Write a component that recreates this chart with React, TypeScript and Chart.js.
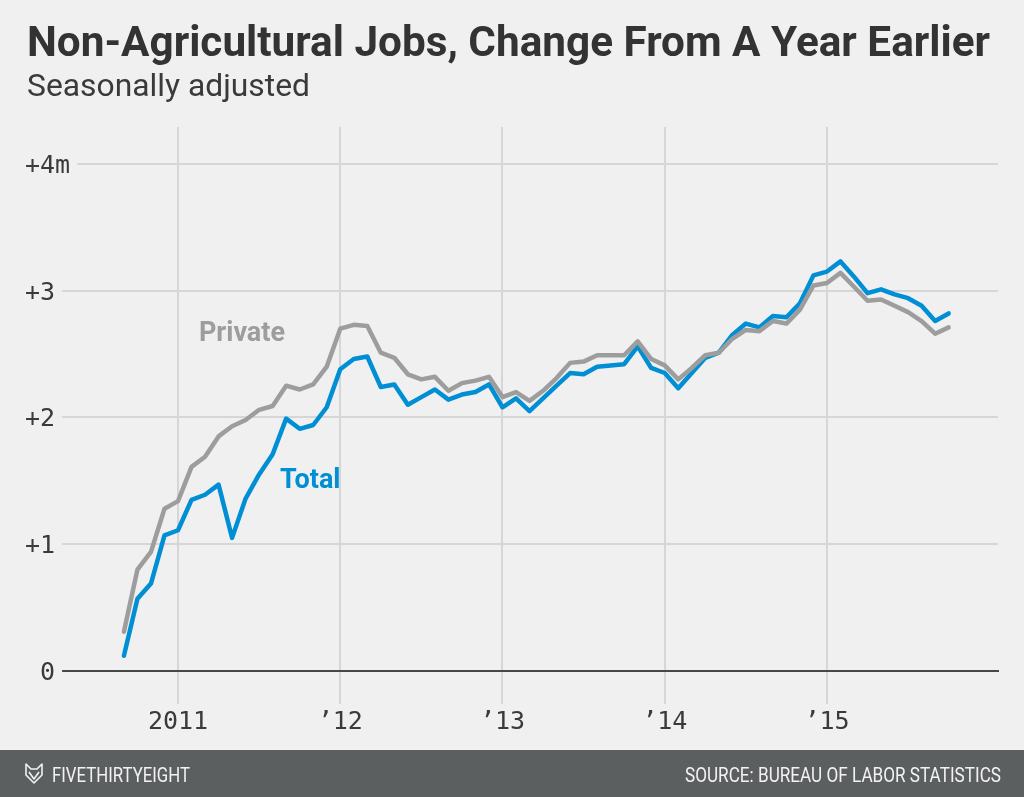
import React, { useEffect, useRef } from "react";
import { Chart, registerables } from "chart.js";

Chart.register(...registerables);

const titleText = "Non-Agricultural Jobs, Change From A Year Earlier";
const subtitleText = "Seasonally adjusted";
const brandText = "FIVETHIRTYEIGHT";
const sourceText = "SOURCE: BUREAU OF LABOR STATISTICS";

const months = [
  "Sep 2010", "Oct 2010", "Nov 2010", "Dec 2010",
  "Jan 2011", "Feb 2011", "Mar 2011", "Apr 2011", "May 2011", "Jun 2011",
  "Jul 2011", "Aug 2011", "Sep 2011", "Oct 2011", "Nov 2011", "Dec 2011",
  "Jan 2012", "Feb 2012", "Mar 2012", "Apr 2012", "May 2012", "Jun 2012",
  "Jul 2012", "Aug 2012", "Sep 2012", "Oct 2012", "Nov 2012", "Dec 2012",
  "Jan 2013", "Feb 2013", "Mar 2013", "Apr 2013", "May 2013", "Jun 2013",
  "Jul 2013", "Aug 2013", "Sep 2013", "Oct 2013", "Nov 2013", "Dec 2013",
  "Jan 2014", "Feb 2014", "Mar 2014", "Apr 2014", "May 2014", "Jun 2014",
  "Jul 2014", "Aug 2014", "Sep 2014", "Oct 2014", "Nov 2014", "Dec 2014",
  "Jan 2015", "Feb 2015", "Mar 2015", "Apr 2015", "May 2015", "Jun 2015",
  "Jul 2015", "Aug 2015", "Sep 2015", "Oct 2015",
];

// millions of jobs, change from a year earlier
const totalJobs = [
  0.12, 0.57, 0.69, 1.07,
  1.11, 1.35, 1.39, 1.47, 1.05, 1.36, 1.55, 1.71, 1.99, 1.91, 1.94, 2.08,
  2.38, 2.46, 2.48, 2.24, 2.26, 2.10, 2.16, 2.22, 2.14, 2.18, 2.20, 2.26,
  2.08, 2.15, 2.05, 2.15, 2.25, 2.35, 2.34, 2.40, 2.41, 2.42, 2.56, 2.39,
  2.35, 2.23, 2.35, 2.47, 2.51, 2.65, 2.74, 2.71, 2.80, 2.79, 2.90, 3.12,
  3.15, 3.23, 3.11, 2.98, 3.01, 2.97, 2.94, 2.88, 2.76, 2.82,
];

const privateJobs = [
  0.31, 0.80, 0.94, 1.28,
  1.34, 1.61, 1.69, 1.85, 1.93, 1.98, 2.06, 2.09, 2.25, 2.22, 2.26, 2.40,
  2.70, 2.73, 2.72, 2.51, 2.47, 2.34, 2.30, 2.32, 2.21, 2.27, 2.29, 2.32,
  2.16, 2.20, 2.13, 2.21, 2.31, 2.43, 2.44, 2.49, 2.49, 2.49, 2.60, 2.46,
  2.41, 2.30, 2.39, 2.49, 2.51, 2.62, 2.69, 2.68, 2.76, 2.74, 2.85, 3.04,
  3.06, 3.14, 3.03, 2.92, 2.93, 2.88, 2.83, 2.76, 2.66, 2.71,
];

// x ticks: index into months (January of each year)
const xTickIndex = [4, 16, 28, 40, 52];
const xTickLabels = ["2011", "\u201912", "\u201913", "\u201914", "\u201915"];
const yTickValues = [0, 1, 2, 3, 4];
const yTickLabels = ["0", "+1", "+2", "+3", "+4m"];

// series annotations: [month index, value at baseline]
const privateLabelPos = [5.55, 2.6];
const totalLabelPos = [11.55, 1.44];

const BG = "#f0f0f0";
const BLUE = "#008fd5";
const GRAY = "#9d9d9d";
const GRID = "#d6d6d6";
const TEXT = "#3a3a3a";

function fitText(
  ctx: CanvasRenderingContext2D,
  text: string,
  x: number,
  y: number,
  width: number,
  font: string,
  color: string
) {
  ctx.save();
  ctx.font = font;
  ctx.fillStyle = color;
  ctx.textAlign = "left";
  ctx.textBaseline = "alphabetic";
  const w = ctx.measureText(text).width;
  const s = width / w;
  ctx.translate(x, y);
  ctx.scale(s, 1);
  ctx.fillText(text, 0, 0);
  ctx.restore();
}

const decor = {
  id: "decor",
  beforeDraw(chart: any) {
    const ctx = chart.ctx as CanvasRenderingContext2D;
    ctx.save();
    ctx.fillStyle = BG;
    ctx.fillRect(0, 0, chart.width, chart.height);
    ctx.restore();
  },
  beforeDatasetsDraw(chart: any) {
    const ctx = chart.ctx as CanvasRenderingContext2D;
    const y = chart.scales.y;
    const area = chart.chartArea;
    const y0 = Math.round(y.getPixelForValue(0));
    ctx.save();
    ctx.strokeStyle = "#474747";
    ctx.lineWidth = 2;
    ctx.beginPath();
    ctx.moveTo(area.left, y0);
    ctx.lineTo(area.right + 1, y0);
    ctx.stroke();
    ctx.restore();
  },
  afterDraw(chart: any) {
    const ctx = chart.ctx as CanvasRenderingContext2D;
    const xs = chart.scales.x;
    const ys = chart.scales.y;
    const area = chart.chartArea;

    // title + subtitle
    fitText(ctx, titleText, 27, 56, 963, "bold 43px Roboto", "#333333");
    fitText(ctx, subtitleText, 27, 96, 283, "31px Roboto", "#3a3a3a");

    // y tick labels with backdrop
    ctx.save();
    ctx.font = "25px 'DejaVu Sans Mono'";
    ctx.textAlign = "left";
    ctx.textBaseline = "alphabetic";
    const plusW = ctx.measureText("+").width;
    yTickValues.forEach((v, i) => {
      const label = yTickLabels[i];
      const py = ys.getPixelForValue(v);
      const lx = label.startsWith("+") ? 25 : 25 + plusW;
      const end = lx + ctx.measureText(label).width;
      const right = end + 7;
      if (right > area.left) {
        ctx.fillStyle = BG;
        ctx.fillRect(area.left - 1, py - 3, right - area.left + 1, 6);
      }
      ctx.fillStyle = TEXT;
      ctx.fillText(label, lx, py + 9);
    });
    // x tick labels
    ctx.textAlign = "center";
    xTickIndex.forEach((idx, i) => {
      const px = xs.getPixelForValue(idx);
      ctx.fillStyle = TEXT;
      ctx.fillText(xTickLabels[i], px, 729);
    });
    ctx.restore();

    // series labels
    ctx.save();
    ctx.font = "bold 27px Roboto";
    ctx.textAlign = "left";
    ctx.textBaseline = "alphabetic";
    ctx.fillStyle = GRAY;
    ctx.fillText(
      "Private",
      xs.getPixelForValue(privateLabelPos[0]),
      ys.getPixelForValue(privateLabelPos[1])
    );
    ctx.fillStyle = BLUE;
    ctx.fillText(
      "Total",
      xs.getPixelForValue(totalLabelPos[0]),
      ys.getPixelForValue(totalLabelPos[1])
    );
    ctx.restore();

    // footer
    ctx.save();
    ctx.fillStyle = "#5c5f60";
    ctx.fillRect(0, 750, chart.width, chart.height - 750);
    ctx.restore();
    fitText(ctx, brandText, 52, 782, 138, "20px Roboto", "#f2f2f2");
    fitText(ctx, sourceText, 685, 782, 316, "20px Roboto", "#f2f2f2");

    // logo
    ctx.save();
    ctx.strokeStyle = "#f2f2f2";
    ctx.lineWidth = 1.6;
    ctx.lineJoin = "round";
    ctx.beginPath();
    ctx.moveTo(26, 764);
    ctx.lineTo(31, 769);
    ctx.lineTo(37, 769);
    ctx.lineTo(42, 764);
    ctx.lineTo(42, 775);
    ctx.lineTo(34, 783);
    ctx.lineTo(26, 775);
    ctx.closePath();
    ctx.stroke();
    ctx.beginPath();
    ctx.moveTo(29, 772);
    ctx.lineTo(34, 779);
    ctx.lineTo(39, 772);
    ctx.stroke();
    ctx.restore();
  },
};

export default function App() {
  const canvasRef = useRef<HTMLCanvasElement | null>(null);

  useEffect(() => {
    const canvas = canvasRef.current;
    if (!canvas) return;
    const chart = new Chart(canvas, {
      type: "line",
      data: {
        labels: months,
        datasets: [
          {
            label: "Private",
            data: privateJobs.map((v, i) => ({ x: i, y: v })),
            borderColor: GRAY,
            borderWidth: 4.5,
            pointRadius: 0,
            tension: 0,
            borderJoinStyle: "round",
            borderCapStyle: "round",
            fill: false,
          },
          {
            label: "Total",
            data: totalJobs.map((v, i) => ({ x: i, y: v })),
            borderColor: BLUE,
            borderWidth: 4.5,
            pointRadius: 0,
            tension: 0,
            borderJoinStyle: "round",
            borderCapStyle: "round",
            fill: false,
          },
        ],
      },
      options: {
        animation: false,
        responsive: false,
        devicePixelRatio: 1,
        layout: { padding: { left: 62, right: 26, top: 127, bottom: 93 } },
        plugins: {
          legend: { display: false },
          tooltip: { enabled: false },
          title: { display: false },
        },
        scales: {
          x: {
            type: "linear",
            min: -4.58,
            max: 64.65,
            afterFit: (s: any) => {
              s.height = 0;
            },
            afterBuildTicks: (s: any) => {
              s.ticks = xTickIndex.map((v) => ({ value: v }));
            },
            ticks: { display: false },
            grid: { color: GRID, lineWidth: 2, drawTicks: false },
            border: { display: false },
          },
          y: {
            type: "linear",
            min: -0.26,
            max: 4.29,
            afterFit: (s: any) => {
              s.width = 0;
            },
            afterBuildTicks: (s: any) => {
              s.ticks = yTickValues.map((v) => ({ value: v }));
            },
            ticks: { display: false },
            grid: {
              color: (c: any) =>
                c.tick && c.tick.value === 0 ? "rgba(0,0,0,0)" : GRID,
              lineWidth: 2,
              drawTicks: false,
            },
            border: { display: false },
          },
        },
      } as any,
      plugins: [decor],
    });
    return () => chart.destroy();
  }, []);

  return (
    <div
      style={{
        position: "fixed",
        left: 0,
        top: 0,
        width: 1024,
        height: 797,
        background: BG,
      }}
    >
      <canvas
        ref={canvasRef}
        width={1024}
        height={797}
        style={{ width: 1024, height: 797, display: "block" }}
      />
    </div>
  );
}
